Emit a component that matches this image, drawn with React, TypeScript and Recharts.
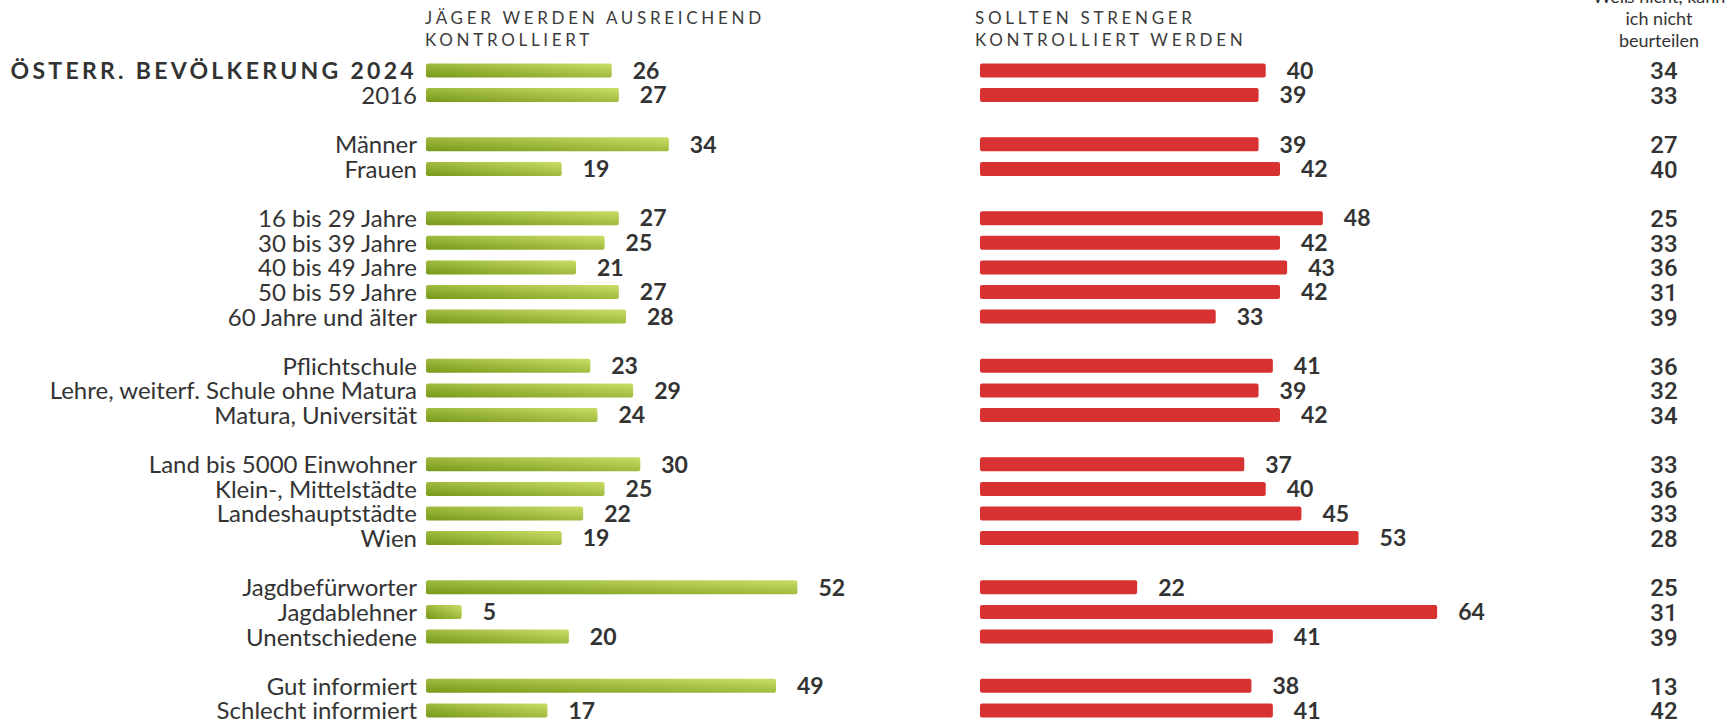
import { BarChart, Bar, XAxis, YAxis, LabelList } from "recharts";

// rows per block, a blank row is put between blocks
const groupSizes = [2, 2, 5, 3, 4, 3, 2];

const categories = [
  "ÖSTERR. BEVÖLKERUNG 2024",
  "2016",
  "Männer",
  "Frauen",
  "16 bis 29 Jahre",
  "30 bis 39 Jahre",
  "40 bis 49 Jahre",
  "50 bis 59 Jahre",
  "60 Jahre und älter",
  "Pflichtschule",
  "Lehre, weiterf. Schule ohne Matura",
  "Matura, Universität",
  "Land bis 5000 Einwohner",
  "Klein-, Mittelstädte",
  "Landeshauptstädte",
  "Wien",
  "Jagdbefürworter",
  "Jagdablehner",
  "Unentschiedene",
  "Gut informiert",
  "Schlecht informiert",
];

const ausreichend = [26, 27, 34, 19, 27, 25, 21, 27, 28, 23, 29, 24, 30, 25, 22, 19, 52, 5, 20, 49, 17];
const strenger = [40, 39, 39, 42, 48, 42, 43, 42, 33, 41, 39, 42, 37, 40, 45, 53, 22, 64, 41, 38, 41];
const weissNicht = [34, 33, 27, 40, 25, 33, 36, 31, 39, 36, 32, 34, 33, 36, 33, 28, 25, 31, 39, 13, 42];

const headerGreen = ["JÄGER WERDEN AUSREICHEND", "KONTROLLIERT"];
const headerRed = ["SOLLTEN STRENGER", "KONTROLLIERT WERDEN"];
const headerRest = ["Weiß nicht, kann", "ich nicht", "beurteilen"];

type Row = { key: string; label: string; green: number | null; red: number | null; dk: number | null };

function buildRows(): Row[] {
  const rows: Row[] = [];
  let i = 0;
  groupSizes.forEach((size, g) => {
    if (g > 0) rows.push({ key: `gap-${g}`, label: "", green: null, red: null, dk: null });
    for (let k = 0; k < size; k++, i++) {
      rows.push({ key: `row-${i}`, label: categories[i], green: ausreichend[i], red: strenger[i], dk: weissNicht[i] });
    }
  });
  return rows;
}

const rows = buildRows();
const byKey: Record<string, Row> = {};
rows.forEach((r) => (byKey[r.key] = r));

const H = 723;
const MARGIN = { top: 58.5, right: 0, bottom: 0, left: 0 };
const TEXT = "#333333";

const CategoryTick = (props: any) => {
  const { x, y, payload } = props;
  const row = byKey[payload.value];
  if (!row || !row.label) return null;
  const first = row.key === "row-0";
  return (
    <text
      x={x}
      y={y}
      dy="0.36em"
      textAnchor="end"
      fontFamily="Lato"
      fontSize={first ? 23 : 24}
      fontWeight={first ? 700 : 400}
      letterSpacing={first ? 3.3 : 0}
      fill={TEXT}
    >
      {row.label}
    </text>
  );
};

const RestTick = (props: any) => {
  const { x, y, payload } = props;
  const row = byKey[payload.value];
  if (!row || row.dk == null) return null;
  return (
    <text x={x + 184} y={y} dy="0.36em" textAnchor="middle" fontFamily="Roboto" fontWeight={500} fontSize={24} fill={TEXT}>
      {row.dk}
    </text>
  );
};

const ValueLabel = (props: any) => {
  const { x, y, width, height, value } = props;
  if (value == null) return null;
  return (
    <text x={x + width + 21} y={y + height / 2} dy="0.36em" fontFamily="Lato" fontWeight={700} fontSize={23} fill={TEXT}>
      {value}
    </text>
  );
};

export default function App() {
  return (
    <div style={{ position: "relative", width: 1731, height: H, overflow: "hidden", background: "#fff" }}>
      <style>{"body{margin:0}"}</style>

      <div style={{ position: "absolute", left: 0, top: 0 }}>
        <BarChart layout="vertical" width={926} height={H} data={rows} margin={MARGIN}>
          <defs>
            <linearGradient id="greenGrad" x1="0" y1="1" x2="1" y2="0">
              <stop offset="0.05" stopColor="#7b9c1c" />
              <stop offset="0.95" stopColor="#c5da63" />
            </linearGradient>
          </defs>
          <XAxis type="number" domain={[0, 70]} hide />
          <YAxis
            type="category"
            dataKey="key"
            width={426}
            interval={0}
            axisLine={false}
            tickLine={false}
            tickSize={0}
            tickMargin={9}
            tick={<CategoryTick />}
          />
          <Bar dataKey="green" fill="url(#greenGrad)" barSize={14} radius={2} isAnimationActive={false}>
            <LabelList dataKey="green" content={<ValueLabel />} />
          </Bar>
        </BarChart>
      </div>

      <div style={{ position: "absolute", left: 980, top: 0 }}>
        <BarChart layout="vertical" width={751} height={H} data={rows} margin={MARGIN}>
          <XAxis type="number" domain={[0, 70]} hide />
          <YAxis type="category" dataKey="key" hide />
          <YAxis
            yAxisId="rest"
            orientation="right"
            type="category"
            dataKey="key"
            width={251}
            interval={0}
            axisLine={false}
            tickLine={false}
            tickSize={0}
            tickMargin={0}
            tick={<RestTick />}
          />
          <Bar dataKey="red" fill="#d83131" barSize={14} radius={2} isAnimationActive={false}>
            <LabelList dataKey="red" content={<ValueLabel />} />
          </Bar>
        </BarChart>
      </div>

      <svg width={1731} height={H} style={{ position: "absolute", left: 0, top: 0, pointerEvents: "none" }}>
        {headerGreen.map((t, i) => (
          <text key={t} x={425} y={23.5 + i * 22} fontFamily="Lato" fontSize={17} letterSpacing={3.7} fill="#3c3c3c">
            {t}
          </text>
        ))}
        {headerRed.map((t, i) => (
          <text key={t} x={975} y={23.5 + i * 22} fontFamily="Lato" fontSize={17} letterSpacing={3.7} fill="#3c3c3c">
            {t}
          </text>
        ))}
        {headerRest.map((t, i) => (
          <text key={t} x={1659} y={3 + i * 22} textAnchor="middle" fontFamily="Lato" fontSize={18} fill={TEXT}>
            {t}
          </text>
        ))}
      </svg>
    </div>
  );
}
